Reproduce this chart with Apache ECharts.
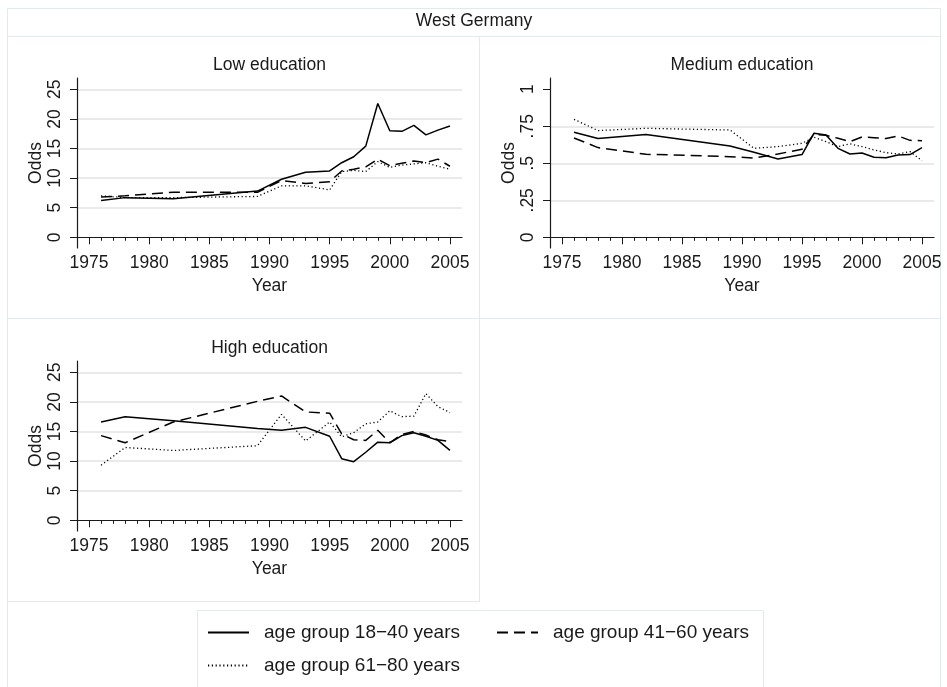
<!DOCTYPE html>
<html lang="en">
<head>
    <meta charset="UTF-8">
    <title>West Germany</title>
    <!--odds by education and age group, West Germany-->
    <style>
        html, body { margin: 0; padding: 0; background: #fff; }
    </style>
</head>
<body>
<div id="main" style="width: 947px;height: 687px;"></div>
<script src="https://cdn.jsdelivr.net/npm/echarts@6/dist/echarts.min.js"></script>
<script>
    // survey years
    var years = [1976, 1978, 1982, 1989, 1991, 1993, 1995, 1996, 1997, 1998, 1999, 2000, 2001, 2002, 2003, 2004, 2005];
    // low education
    var lowYoung = [6.2, 6.7, 6.5, 7.8, 9.8, 11.0, 11.2, 12.6, 13.6, 15.4, 22.6, 18.0, 17.9, 18.9, 17.3, 18.1, 18.8];
    var lowMid = [6.8, 7.0, 7.6, 7.6, 9.6, 9.1, 9.4, 11.2, 11.5, 11.9, 13.2, 12.1, 12.5, 12.9, 12.6, 13.2, 12.0];
    var lowOld = [7.0, 6.7, 6.7, 6.9, 8.7, 8.7, 8.0, 11.1, 11.3, 11.1, 12.8, 11.8, 12.2, 12.4, 12.6, 12.0, 11.5];
    // medium education
    var medYoung = [0.709, 0.667, 0.694, 0.617, 0.574, 0.529, 0.559, 0.703, 0.691, 0.601, 0.563, 0.570, 0.541, 0.538, 0.556, 0.559, 0.606];
    var medMid = [0.671, 0.606, 0.561, 0.545, 0.536, 0.563, 0.595, 0.696, 0.689, 0.669, 0.646, 0.678, 0.673, 0.667, 0.685, 0.655, 0.653];
    var medOld = [0.797, 0.721, 0.736, 0.725, 0.601, 0.613, 0.635, 0.676, 0.646, 0.613, 0.631, 0.613, 0.590, 0.572, 0.563, 0.579, 0.518];
    // high education
    var highYoung = [16.6, 17.5, 16.8, 15.5, 15.2, 15.7, 14.2, 10.4, 9.9, 11.5, 13.2, 13.1, 14.3, 14.8, 14.2, 13.5, 11.8];
    var highMid = [14.3, 13.1, 16.6, 20.1, 21.0, 18.3, 18.1, 14.6, 13.6, 13.5, 15.2, 13.1, 14.5, 15.0, 14.4, 13.6, 13.3];
    var highOld = [9.3, 12.3, 11.8, 12.6, 17.9, 13.4, 16.6, 14.1, 14.8, 16.3, 16.6, 18.5, 17.5, 17.6, 21.4, 19.2, 18.2];

    var groupNames = ['age group 18\u221240 years', 'age group 41\u221260 years', 'age group 61\u221280 years'];
    var panelTitles = ['Low education', 'Medium education', 'High education'];
    var yearTicks = [1975, 1980, 1985, 1990, 1995, 2000, 2005];
    var oddsTicks = [0, 5, 10, 15, 20, 25];
    var oddsGrid = [5, 10, 15, 20, 25];
    var shareTicks = [0, 0.25, 0.5, 0.75, 1];
    var shareGrid = [0.25, 0.5, 0.75];

    var font = 'Liberation Sans, Arial, sans-serif';
    var ink = '#1a1a1a';
    var frame = '#e4eaec';

    var allYears = [];
    for (var y = 1975; y <= 2005; y++) {
        allYears.push(y);
    }

    function pairs(vals) {
        var out = [];
        for (var i = 0; i < years.length; i++) {
            out.push([years[i], vals[i]]);
        }
        return out;
    }

    // plot areas: left, top, width, height, y min, y max
    var panels = [
        {left: 77, top: 78, width: 385, height: 170, min: -1.81, max: 26.91, ticks: oddsTicks, grid: oddsGrid},
        {left: 550, top: 78, width: 384, height: 170, min: -0.072, max: 1.076, ticks: shareTicks, grid: shareGrid},
        {left: 77, top: 361, width: 385, height: 170, min: -1.81, max: 26.91, ticks: oddsTicks, grid: oddsGrid}
    ];
    var panelData = [
        [lowYoung, lowMid, lowOld],
        [medYoung, medMid, medOld],
        [highYoung, highMid, highOld]
    ];
    var lineTypes = ['solid', [11, 6], [1.2, 2.6]];
    var lineWidths = [1.5, 1.5, 1.3];

    function shareLabel(v) {
        if (v === 0) return '0';
        if (v === 1) return '1';
        return String(v).replace('0.', '.');
    }
    function plainLabel(v) {
        return String(v);
    }

    var grids = [], xAxes = [], yAxes = [], series = [];
    var titles = [{
        text: 'West Germany', left: 474, top: 12, textAlign: 'center', padding: 0,
        textStyle: {fontFamily: font, fontSize: 17.5, fontWeight: 'normal', color: ink}
    }];

    for (var p = 0; p < panels.length; p++) {
        var c = panels[p];
        grids.push({left: c.left, top: c.top, width: c.width, height: c.height, containLabel: false});
        titles.push({
            text: panelTitles[p], left: c.left + c.width / 2, top: c.top - 22, textAlign: 'center', padding: 0,
            textStyle: {fontFamily: font, fontSize: 17.5, fontWeight: 'normal', color: ink}
        });
        // yearly minor ticks + axis line
        xAxes.push({
            type: 'value', gridIndex: p, position: 'bottom', min: 1974, max: 2006,
            axisLine: {show: true, lineStyle: {color: ink, width: 1.2}},
            axisTick: {show: true, length: 3.5, customValues: allYears, lineStyle: {color: ink, width: 1}},
            axisLabel: {show: false},
            splitLine: {show: false}
        });
        // labelled major ticks
        xAxes.push({
            type: 'value', gridIndex: p, position: 'bottom', min: 1974, max: 2006,
            name: 'Year', nameLocation: 'middle', nameGap: 29,
            nameTextStyle: {fontFamily: font, fontSize: 17.5, color: ink},
            axisLine: {show: false},
            axisTick: {show: true, length: 7, customValues: yearTicks, lineStyle: {color: ink, width: 1}},
            axisLabel: {
                show: true, customValues: yearTicks, margin: 6,
                fontFamily: font, fontSize: 17.5, color: ink,
                formatter: plainLabel
            },
            splitLine: {show: false}
        });
        yAxes.push({
            type: 'value', gridIndex: p, position: 'left', min: c.min, max: c.max,
            name: 'Odds', nameLocation: 'middle', nameRotate: 90, nameGap: 30,
            nameTextStyle: {fontFamily: font, fontSize: 17.5, color: ink},
            axisLine: {show: true, lineStyle: {color: ink, width: 1.2}},
            axisTick: {show: true, length: 7, customValues: c.ticks, lineStyle: {color: ink, width: 1}},
            axisLabel: {
                show: true, customValues: c.ticks, rotate: 90, margin: 13,
                fontFamily: font, fontSize: 17.5, color: ink,
                formatter: p === 1 ? shareLabel : plainLabel
            },
            splitLine: {show: false}
        });
        // gridlines only
        yAxes.push({
            type: 'value', gridIndex: p, position: 'left', min: c.min, max: c.max,
            axisLine: {show: false},
            axisTick: {show: false, customValues: c.grid},
            axisLabel: {show: false},
            splitLine: {show: true, lineStyle: {color: '#e3e3e3', width: 1.5}}
        });
        for (var s = 0; s < 3; s++) {
            series.push({
                name: groupNames[s], type: 'line',
                xAxisIndex: p * 2, yAxisIndex: p * 2,
                symbol: 'none', z: 3 + (2 - s),
                lineStyle: {color: '#000', width: lineWidths[s], type: lineTypes[s]},
                itemStyle: {color: '#000'},
                data: pairs(panelData[p][s])
            });
        }
    }

    function legendFor(name, left, top) {
        return {
            data: [name], left: left, top: top, padding: 0,
            itemWidth: 41, itemHeight: 14, selectedMode: false,
            itemStyle: {opacity: 0, borderWidth: 0},
            textStyle: {fontFamily: font, fontSize: 19, color: ink, padding: [0, 0, 0, 10]}
        };
    }

    // frame lines of the by-graph
    var graphics = [
        {type: 'rect', shape: {x: 7.5, y: 8.5, width: 933, height: 720}, style: {fill: null, stroke: frame, lineWidth: 1}},
        {type: 'line', shape: {x1: 7, y1: 36.5, x2: 940, y2: 36.5}, style: {stroke: frame, lineWidth: 1}},
        {type: 'line', shape: {x1: 479.5, y1: 36, x2: 479.5, y2: 601}, style: {stroke: frame, lineWidth: 1}},
        {type: 'line', shape: {x1: 7, y1: 318.5, x2: 940, y2: 318.5}, style: {stroke: frame, lineWidth: 1}},
        {type: 'line', shape: {x1: 7, y1: 601.5, x2: 480, y2: 601.5}, style: {stroke: frame, lineWidth: 1}},
        {type: 'rect', shape: {x: 197.5, y: 610.5, width: 566, height: 120}, style: {fill: null, stroke: frame, lineWidth: 1}}
    ];

    var chart = echarts.init(document.getElementById('main'));
    var option = {
        backgroundColor: '#fff',
        animation: false,
        title: titles,
        graphic: graphics,
        legend: [
            legendFor(groupNames[0], 207, 623),
            legendFor(groupNames[1], 496, 623),
            legendFor(groupNames[2], 207, 656)
        ],
        grid: grids,
        xAxis: xAxes,
        yAxis: yAxes,
        series: series
    };
    chart.setOption(option);
</script>
</body>
</html>
